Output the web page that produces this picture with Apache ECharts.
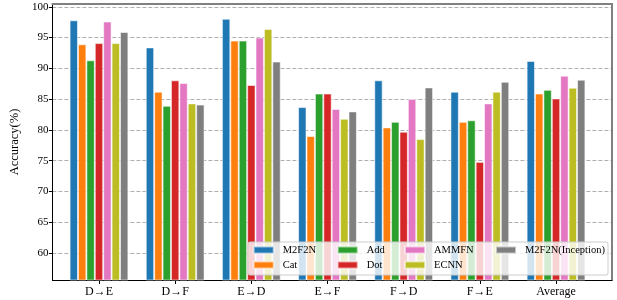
<!DOCTYPE html>
<html>
<head>
<meta charset="utf-8">
<script src="https://cdn.jsdelivr.net/npm/echarts@6/dist/echarts.min.js"></script>
<style>html,body{margin:0;padding:0;background:#fff}#c{width:617px;height:300px}</style>
</head>
<body>
<div id="c"></div>
<script>
const categories = ['D\u2192E', 'D\u2192F', 'E\u2192D', 'E\u2192F', 'F\u2192D', 'F\u2192E', 'Average'];
const seriesNames = ['M2F2N', 'Cat', 'Add', 'Dot', 'AMMFN', 'ECNN', 'M2F2N(Inception)'];
const M2F2N      = [97.8, 93.4, 98.05, 83.7, 88.05, 86.2, 91.2];
const Cat        = [93.9, 86.2, 94.5, 79.0, 80.4, 81.3, 85.9];
const Add        = [91.3, 83.9, 94.5, 85.9, 81.3, 81.55, 86.5];
const Dot        = [94.1, 88.05, 87.3, 85.9, 79.7, 74.8, 85.1];
const AMMFN      = [97.6, 87.6, 95.0, 83.4, 85.0, 84.3, 88.8];
const ECNN       = [94.1, 84.3, 96.4, 81.8, 78.5, 86.2, 86.85];
const Inception  = [95.9, 84.1, 91.1, 83.0, 86.9, 87.8, 88.15];
const yTicks = [60, 65, 70, 75, 80, 85, 90, 95, 100];

const values = [M2F2N, Cat, Add, Dot, AMMFN, ECNN, Inception];
const colors = ['#1f77b4', '#ff7f0e', '#2ca02c', '#d62728', '#e377c2', '#bcbd22', '#7f7f7f'];
const FONT = "'Liberation Serif', 'Times New Roman', 'DejaVu Serif', serif";
const YMIN = 55.6, YMAX = 100.45;

const chart = echarts.init(document.getElementById('c'), null, {renderer: 'canvas'});

const legendCommon = {
  orient: 'vertical', top: 244, padding: 0, itemWidth: 20, itemHeight: 7, itemGap: 3,
  icon: 'rect', z: 20,
  textStyle: {fontFamily: FONT, fontSize: 10.5, color: '#000', lineHeight: 12, padding: [0, 0, 0, 4]}
};

const option = {
  animation: false,
  backgroundColor: '#fff',
  grid: [
    {left: 43, right: 5, top: 4, bottom: 20, containLabel: false},
    {left: 60.9, right: 22.9, top: 4, bottom: 20, containLabel: false}
  ],
  xAxis: [
    {type: 'value', gridIndex: 0, min: 0, max: 1, position: 'bottom',
     axisLine: {show: true, onZero: false, lineStyle: {color: '#000', width: 1}},
     axisTick: {show: false}, axisLabel: {show: false}, splitLine: {show: false}},
    {type: 'value', gridIndex: 0, min: 0, max: 1, position: 'top',
     axisLine: {show: true, onZero: false, lineStyle: {color: '#808080', width: 2}},
     axisTick: {show: false}, axisLabel: {show: false}, splitLine: {show: false}},
    {type: 'category', gridIndex: 1, data: categories, position: 'bottom',
     axisLine: {show: false}, 
     axisTick: {show: true, alignWithLabel: true, length: 4, lineStyle: {color: '#000'}},
     axisLabel: {fontFamily: FONT, fontSize: 12, color: '#000', margin: 6},
     splitLine: {show: false}}
  ],
  yAxis: [
    {type: 'value', gridIndex: 0, min: YMIN, max: YMAX, splitNumber: 9, minInterval: 5, maxInterval: 5,
     position: 'left',
     name: 'Accuracy(%)', nameLocation: 'middle', nameGap: 30,
     nameTextStyle: {fontFamily: FONT, fontSize: 12.5, color: '#000'},
     axisLine: {show: true, onZero: false, lineStyle: {color: '#000', width: 1}},
     axisTick: {show: true, length: 3.5, lineStyle: {color: '#000'}, customValues: yTicks},
     axisLabel: {fontFamily: FONT, fontSize: 11, color: '#000', margin: 4, customValues: yTicks},
     splitLine: {show: true, lineStyle: {color: '#9a9a9a', type: [4, 2], width: 0.8}}},
    {type: 'value', gridIndex: 0, min: YMIN, max: YMAX, position: 'right',
     axisLine: {show: true, onZero: false, lineStyle: {color: '#808080', width: 2}},
     axisTick: {show: false}, axisLabel: {show: false}, splitLine: {show: false}},
    {type: 'value', gridIndex: 1, min: YMIN, max: YMAX, show: false}
  ],
  graphic: [{
    type: 'rect', z: 15,
    shape: {x: 248, y: 242, width: 360, height: 33, r: 2},
    style: {fill: 'rgba(255,255,255,0.8)', stroke: '#cccccc', lineWidth: 1}
  }],
  legend: [
    Object.assign({}, legendCommon, {left: 252.7, data: ['M2F2N', 'Cat']}),
    Object.assign({}, legendCommon, {left: 336.7, data: ['Add', 'Dot']}),
    Object.assign({}, legendCommon, {left: 404, data: ['AMMFN', 'ECNN']}),
    Object.assign({}, legendCommon, {left: 495, data: ['M2F2N(Inception)']})
  ],
  series: seriesNames.map((name, i) => ({
    name: name, type: 'bar', xAxisIndex: 2, yAxisIndex: 2,
    data: values[i], barWidth: 8.4, barGap: '0%',
    itemStyle: {color: colors[i], borderColor: 'rgba(255,255,255,0.55)', borderWidth: 1}
  }))
};
chart.setOption(option);
</script>
</body>
</html>
